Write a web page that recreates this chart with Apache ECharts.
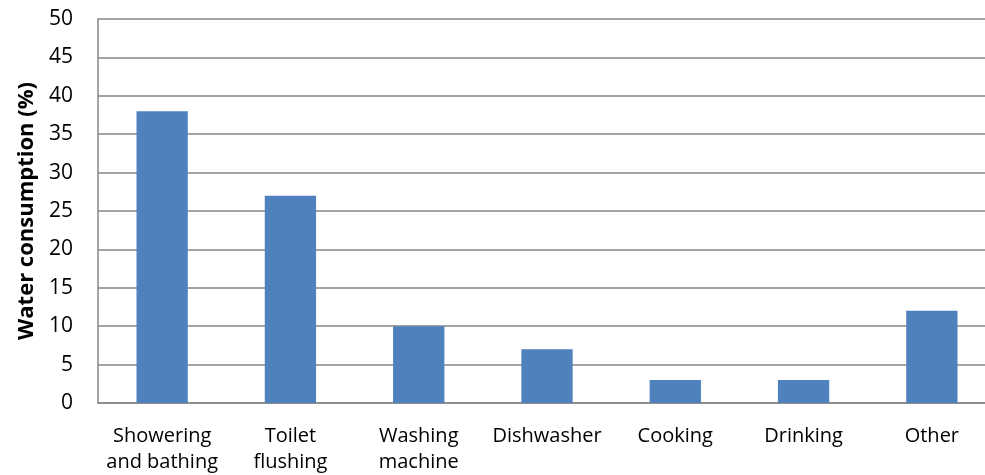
<!DOCTYPE html>
<html>
<head>
<meta charset="utf-8">
<script src="https://cdn.jsdelivr.net/npm/echarts@6/dist/echarts.min.js"></script>
<style>
html,body{margin:0;padding:0;background:#fff;}
#chart{width:985px;height:475px;}
</style>
</head>
<body>
<div id="chart"></div>
<script>
const categories = ['Showering\nand bathing', 'Toilet\nflushing', 'Washing\nmachine', 'Dishwasher', 'Cooking', 'Drinking', 'Other'];
const consumption = [38, 27, 10, 7, 3, 3, 12];
const yTitle = 'Water consumption (%)';

const chart = echarts.init(document.getElementById('chart'), null, {renderer: 'canvas'});
const font = "'Open Sans', sans-serif";
chart.setOption({
  animation: false,
  grid: {left: 98, width: 898, top: 19, bottom: 72, containLabel: false, outerBoundsMode: 'none'},
  xAxis: {
    type: 'category',
    data: categories,
    axisLine: {lineStyle: {color: '#868686', width: 1.5}},
    axisTick: {show: false},
    axisLabel: {color: '#000', fontFamily: font, fontSize: 20, lineHeight: 26, margin: 20, interval: 0}
  },
  yAxis: {
    type: 'value',
    min: 0, max: 50, interval: 5,
    name: yTitle,
    nameLocation: 'middle',
    nameGap: 57,
    nameTextStyle: {color: '#000', fontFamily: font, fontSize: 22, fontWeight: 'bold'},
    axisLine: {show: true, lineStyle: {color: '#868686', width: 1.5}},
    axisTick: {show: false},
    splitLine: {lineStyle: {color: '#868686', width: 1.5}},
    axisLabel: {color: '#000', fontFamily: font, fontSize: 21, margin: 25}
  },
  series: [{
    type: 'bar',
    data: consumption,
    barWidth: '40%',
    itemStyle: {color: '#4f81bd'}
  }]
});
</script>
</body>
</html>
